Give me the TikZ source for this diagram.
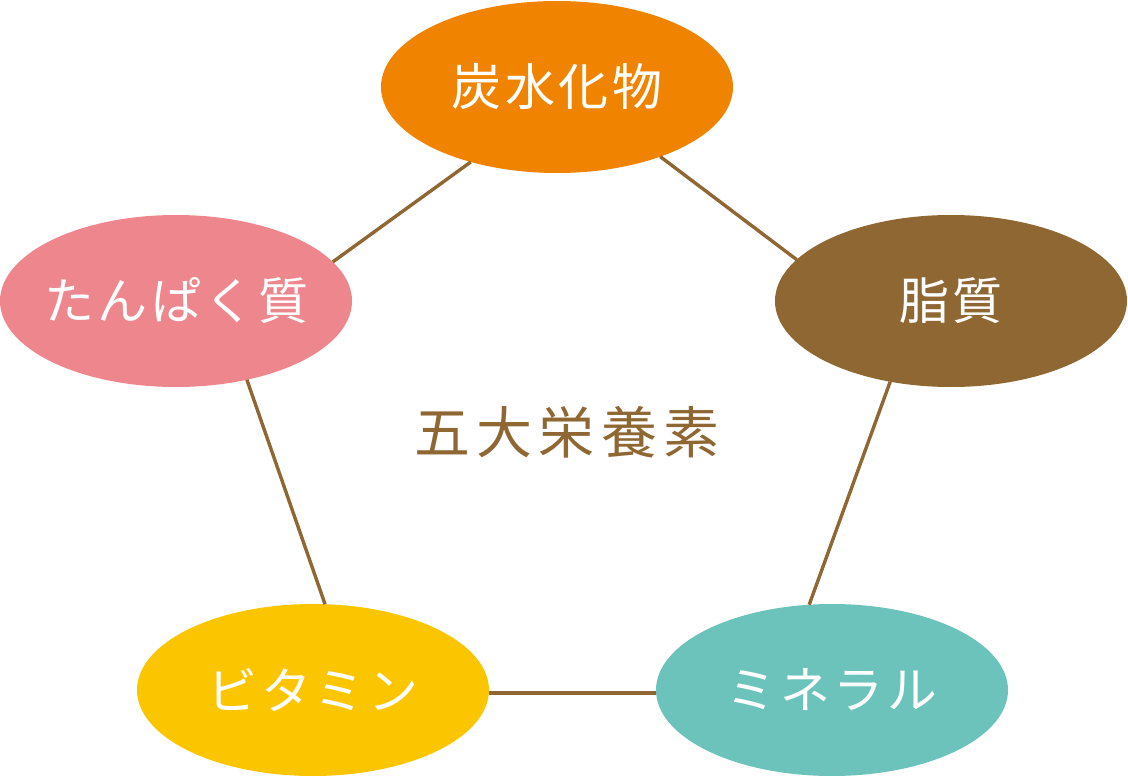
\documentclass[tikz,border=0pt]{standalone}
\usepackage{fontspec}
\usetikzlibrary{shapes.geometric}
\newfontfamily\jpfont[LetterSpace=7]{Noto Sans CJK JP}
\newfontfamily\jpmid[LetterSpace=11]{Noto Sans CJK JP}
\newcommand{\lbl}[1]{\makebox[0pt]{\jpfont #1}}
\definecolor{carbOrange}{HTML}{F08300}
\definecolor{fatBrown}{HTML}{8E6733}
\definecolor{protPink}{HTML}{EE868E}
\definecolor{vitYellow}{HTML}{FBC600}
\definecolor{minTeal}{HTML}{6BC3BC}
\begin{document}
\begin{tikzpicture}[x=1pt,y=-1pt,nutr/.style={shape=ellipse,minimum width=352pt,minimum height=172pt,inner sep=0pt,outer sep=0pt,text=white,font=\fontsize{50}{56}\selectfont},link/.style={draw=fatBrown,line width=3.4pt}]
\useasboundingbox (0,0) rectangle (1128,778);

\node[nutr,fill=carbOrange] (carb) at (557,87) {\lbl{炭水化物}};
\node[nutr,fill=fatBrown] (fat) at (951,301) {\lbl{脂質}};
\node[nutr,fill=minTeal] (mine) at (832,690) {\lbl{ミネラル}};
\node[nutr,fill=vitYellow] (vit) at (313,690) {\lbl{ビタミン}};
\node[nutr,fill=protPink] (prot) at (176,301) {\lbl{たんぱく質}};

\node[text=fatBrown,font=\fontsize{56}{62}\selectfont] (five) at (567,432) {\jpmid 五大栄養素};

\draw[link] (carb.-34.2) -- (fat.165);
\draw[link] (fat.-127) -- (mine.105.8);
\draw[link] (mine.-179) -- (vit.-1);
\draw[link] (vit.82.5) -- (prot.-48.8);
\draw[link] (prot.14) -- (carb.-139.2);
\end{tikzpicture}
\end{document}
